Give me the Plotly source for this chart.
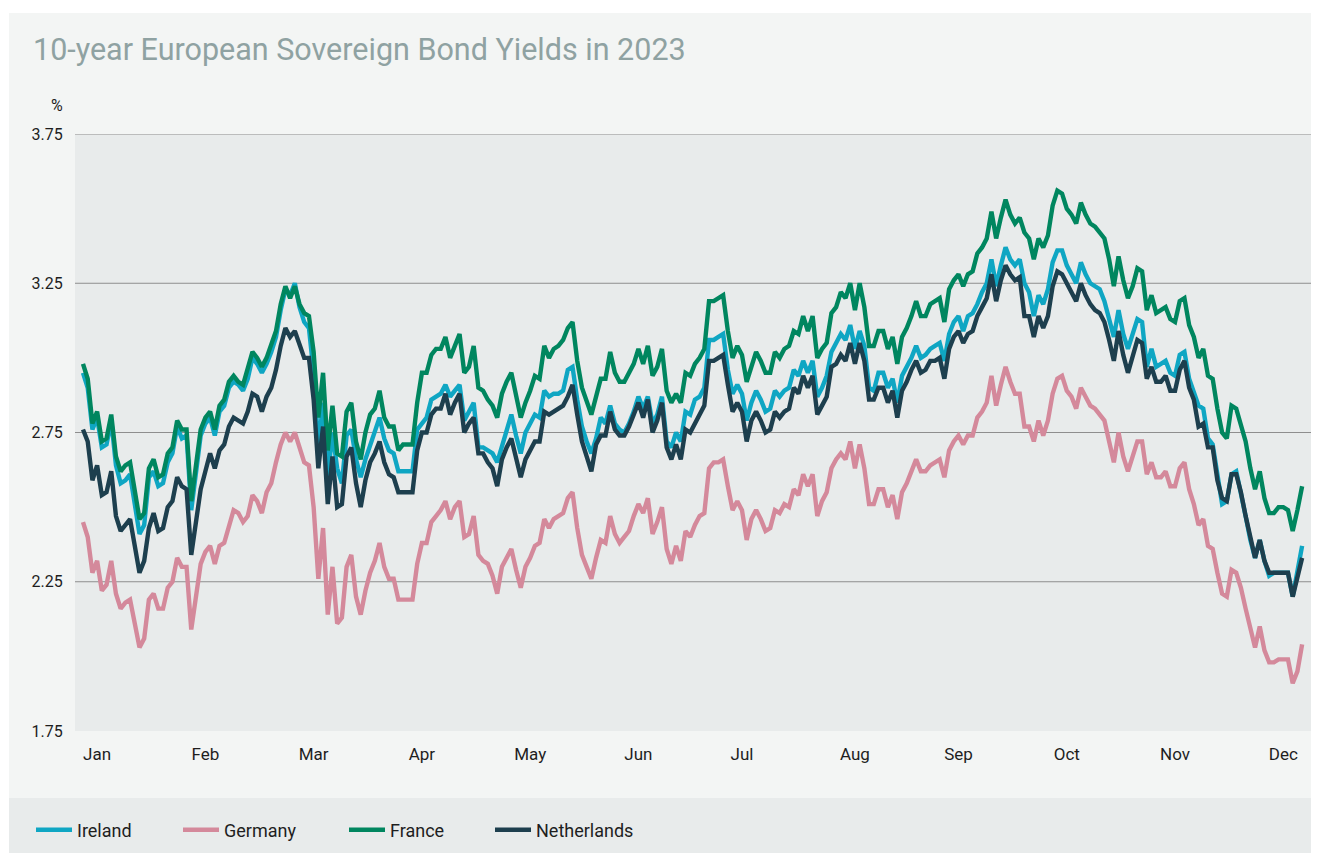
import pandas as pd
import plotly.graph_objects as go

# ---------------- data ----------------
dates = pd.bdate_range("2023-01-02", "2023-12-29")          # 260 business days
day_labels = [d.strftime("%Y-%m-%d") for d in dates]

month_names = ["Jan", "Feb", "Mar", "Apr", "May", "Jun",
               "Jul", "Aug", "Sep", "Oct", "Nov", "Dec"]
month_label_days = [3, 26, 49, 72, 95, 118, 140, 164, 186, 209, 232, 255]

y_ticks = [1.75, 2.25, 2.75, 3.25, 3.75]

ireland = [
    2.95, 2.90, 2.76, 2.80, 2.70, 2.71, 2.79, 2.64, 2.58, 2.59,
    2.61, 2.51, 2.41, 2.44, 2.60, 2.62, 2.57, 2.58, 2.65, 2.68,
    2.77, 2.73, 2.74, 2.49, 2.62, 2.74, 2.78, 2.80, 2.74, 2.82,
    2.84, 2.90, 2.92, 2.91, 2.89, 2.93, 3.00, 2.98, 2.95, 2.98,
    3.02, 3.07, 3.16, 3.23, 3.21, 3.25, 3.17, 3.12, 3.10, 2.95,
    2.70, 2.85, 2.60, 2.75, 2.63, 2.58, 2.74, 2.76, 2.66, 2.60,
    2.66, 2.71, 2.75, 2.80, 2.73, 2.69, 2.68, 2.62, 2.62, 2.62,
    2.62, 2.76, 2.78, 2.80, 2.86, 2.87, 2.88, 2.91, 2.87, 2.89,
    2.91, 2.79, 2.82, 2.85, 2.70, 2.70, 2.69, 2.68, 2.65, 2.70,
    2.76, 2.81, 2.74, 2.68, 2.75, 2.78, 2.81, 2.80, 2.89, 2.87,
    2.88, 2.88, 2.89, 2.96, 2.97, 2.86, 2.77, 2.72, 2.68, 2.73,
    2.80, 2.78, 2.84, 2.78, 2.76, 2.75, 2.78, 2.82, 2.87, 2.83,
    2.87, 2.78, 2.81, 2.87, 2.72, 2.70, 2.75, 2.72, 2.82, 2.81,
    2.86, 2.87, 2.90, 3.06, 3.06, 3.07, 3.08, 2.96, 2.88, 2.91,
    2.88, 2.79, 2.85, 2.89, 2.86, 2.82, 2.83, 2.89, 2.87, 2.89,
    2.90, 2.96, 2.94, 2.99, 2.95, 2.99, 2.87, 2.90, 2.94, 3.02,
    3.05, 3.08, 3.06, 3.11, 3.03, 3.09, 3.04, 2.90, 2.89, 2.95,
    2.95, 2.90, 2.93, 2.85, 2.94, 2.97, 3.00, 3.04, 3.00, 3.01,
    3.03, 3.04, 3.05, 2.99, 3.08, 3.12, 3.14, 3.09, 3.14, 3.15,
    3.18, 3.22, 3.25, 3.33, 3.24, 3.31, 3.37, 3.33, 3.31, 3.33,
    3.25, 3.22, 3.14, 3.21, 3.18, 3.23, 3.32, 3.36, 3.36, 3.31,
    3.28, 3.25, 3.32, 3.28, 3.25, 3.24, 3.23, 3.19, 3.13, 3.07,
    3.16, 3.08, 3.03, 3.08, 3.13, 3.12, 2.97, 3.03, 2.97, 2.98,
    2.99, 2.95, 2.94, 3.01, 3.02, 2.93, 2.88, 2.84, 2.83, 2.73,
    2.71, 2.61, 2.51, 2.52, 2.61, 2.62, 2.55, 2.47, 2.39, 2.33,
    2.39, 2.32, 2.27, 2.28, 2.28, 2.28, 2.28, 2.20, 2.28, 2.37,
]

germany = [
    2.45, 2.40, 2.28, 2.32, 2.22, 2.24, 2.32, 2.21, 2.16, 2.18,
    2.19, 2.10, 2.03, 2.06, 2.19, 2.21, 2.16, 2.16, 2.23, 2.25,
    2.33, 2.30, 2.30, 2.09, 2.21, 2.31, 2.35, 2.37, 2.31, 2.37,
    2.38, 2.44, 2.49, 2.48, 2.45, 2.47, 2.54, 2.52, 2.48, 2.55,
    2.58, 2.65, 2.71, 2.75, 2.72, 2.75, 2.70, 2.65, 2.64, 2.50,
    2.26, 2.43, 2.14, 2.30, 2.11, 2.13, 2.30, 2.34, 2.20, 2.14,
    2.22, 2.28, 2.32, 2.38, 2.30, 2.26, 2.26, 2.19, 2.19, 2.19,
    2.19, 2.31, 2.38, 2.38, 2.45, 2.47, 2.49, 2.52, 2.46, 2.50,
    2.52, 2.40, 2.41, 2.47, 2.34, 2.32, 2.31, 2.27, 2.21, 2.30,
    2.33, 2.36, 2.29, 2.23, 2.30, 2.33, 2.37, 2.38, 2.46, 2.43,
    2.46, 2.47, 2.48, 2.53, 2.55, 2.43, 2.34, 2.30, 2.26, 2.33,
    2.39, 2.38, 2.47, 2.41, 2.38, 2.40, 2.42, 2.47, 2.51, 2.48,
    2.53, 2.41, 2.45, 2.50, 2.36, 2.31, 2.37, 2.32, 2.42, 2.40,
    2.44, 2.47, 2.48, 2.63, 2.65, 2.65, 2.66, 2.57, 2.49, 2.52,
    2.49, 2.39, 2.46, 2.49, 2.46, 2.42, 2.43, 2.49, 2.48, 2.51,
    2.50, 2.56, 2.54, 2.61, 2.57, 2.61, 2.47, 2.52, 2.55, 2.63,
    2.66, 2.68, 2.66, 2.72, 2.63, 2.71, 2.63, 2.51, 2.51, 2.56,
    2.56, 2.50, 2.54, 2.46, 2.55, 2.58, 2.62, 2.66, 2.62, 2.62,
    2.64, 2.65, 2.66, 2.60, 2.69, 2.72, 2.74, 2.71, 2.74, 2.74,
    2.80, 2.82, 2.85, 2.94, 2.84, 2.91, 2.97, 2.92, 2.88, 2.88,
    2.77, 2.77, 2.72, 2.79, 2.74, 2.79, 2.88, 2.93, 2.94, 2.89,
    2.87, 2.83, 2.90, 2.87, 2.84, 2.83, 2.81, 2.79, 2.72, 2.65,
    2.75, 2.67, 2.62, 2.67, 2.72, 2.72, 2.61, 2.65, 2.60, 2.60,
    2.62, 2.57, 2.57, 2.63, 2.65, 2.56, 2.51, 2.44, 2.46, 2.37,
    2.36, 2.28, 2.21, 2.20, 2.29, 2.28, 2.23, 2.16, 2.10, 2.03,
    2.10, 2.02, 1.98, 1.98, 1.99, 1.99, 1.99, 1.91, 1.95, 2.04,
]

france = [
    2.98, 2.93, 2.78, 2.82, 2.72, 2.73, 2.81, 2.67, 2.62, 2.64,
    2.65, 2.55, 2.46, 2.48, 2.63, 2.66, 2.60, 2.61, 2.68, 2.70,
    2.79, 2.76, 2.76, 2.52, 2.65, 2.76, 2.80, 2.82, 2.76, 2.84,
    2.86, 2.92, 2.94, 2.92, 2.91, 2.97, 3.02, 3.00, 2.97, 3.00,
    3.04, 3.09, 3.18, 3.24, 3.20, 3.24, 3.18, 3.15, 3.14, 3.02,
    2.80, 2.95, 2.69, 2.84, 2.68, 2.67, 2.82, 2.85, 2.72, 2.66,
    2.75, 2.81, 2.83, 2.89, 2.80, 2.77, 2.77, 2.69, 2.71, 2.71,
    2.71, 2.85, 2.95, 2.95, 3.01, 3.03, 3.03, 3.07, 3.00, 3.04,
    3.08, 2.95, 2.97, 3.04, 2.90, 2.89, 2.86, 2.84, 2.80, 2.88,
    2.92, 2.95, 2.87, 2.80, 2.85, 2.89, 2.94, 2.93, 3.04, 3.00,
    3.03, 3.04, 3.06, 3.10, 3.12, 2.99, 2.90, 2.85, 2.81, 2.87,
    2.93, 2.93, 3.02, 2.95, 2.92, 2.92, 2.95, 2.98, 3.03, 2.98,
    3.04, 2.94, 2.97, 3.03, 2.89, 2.85, 2.88, 2.85, 2.95, 2.94,
    2.98, 3.00, 3.03, 3.19, 3.19, 3.20, 3.21, 3.09, 3.00, 3.04,
    3.01, 2.92, 2.97, 3.02, 2.99, 2.95, 2.95, 3.02, 3.00, 3.03,
    3.04, 3.09, 3.08, 3.14, 3.09, 3.14, 3.00, 3.03, 3.05, 3.15,
    3.17, 3.22, 3.20, 3.25, 3.16, 3.25, 3.17, 3.04, 3.04, 3.09,
    3.09, 3.03, 3.07, 2.98, 3.07, 3.10, 3.14, 3.19, 3.14, 3.14,
    3.18, 3.19, 3.20, 3.12, 3.23, 3.26, 3.28, 3.24, 3.28, 3.29,
    3.35, 3.37, 3.40, 3.49, 3.40, 3.47, 3.53, 3.48, 3.45, 3.47,
    3.42, 3.40, 3.33, 3.40, 3.37, 3.41, 3.51, 3.56, 3.55, 3.50,
    3.48, 3.45, 3.52, 3.48, 3.45, 3.44, 3.42, 3.40, 3.33, 3.24,
    3.34, 3.26, 3.20, 3.24, 3.30, 3.29, 3.16, 3.21, 3.15, 3.16,
    3.17, 3.13, 3.12, 3.19, 3.20, 3.11, 3.07, 3.00, 3.03, 2.94,
    2.93, 2.83, 2.75, 2.73, 2.84, 2.83, 2.78, 2.72, 2.63, 2.56,
    2.62, 2.53, 2.48, 2.48, 2.50, 2.50, 2.49, 2.42, 2.49, 2.57,
]

netherlands = [
    2.76, 2.72, 2.59, 2.64, 2.54, 2.55, 2.62, 2.47, 2.42, 2.44,
    2.46, 2.37, 2.28, 2.32, 2.43, 2.48, 2.42, 2.43, 2.50, 2.52,
    2.60, 2.57, 2.56, 2.34, 2.46, 2.56, 2.62, 2.68, 2.63, 2.69,
    2.71, 2.77, 2.80, 2.79, 2.78, 2.82, 2.88, 2.87, 2.82, 2.87,
    2.90, 2.96, 3.04, 3.10, 3.07, 3.09, 3.05, 3.00, 3.00, 2.86,
    2.63, 2.77, 2.51, 2.67, 2.50, 2.51, 2.67, 2.70, 2.58, 2.50,
    2.59, 2.65, 2.68, 2.72, 2.65, 2.61, 2.60, 2.55, 2.55, 2.55,
    2.55, 2.69, 2.75, 2.75, 2.81, 2.83, 2.83, 2.88, 2.81, 2.85,
    2.88, 2.75, 2.78, 2.80, 2.68, 2.68, 2.65, 2.63, 2.57, 2.66,
    2.70, 2.73, 2.66, 2.60, 2.66, 2.69, 2.72, 2.72, 2.82, 2.81,
    2.82, 2.83, 2.84, 2.87, 2.91, 2.81, 2.72, 2.67, 2.62, 2.71,
    2.74, 2.74, 2.82, 2.76, 2.74, 2.74, 2.77, 2.81, 2.85, 2.80,
    2.86, 2.75, 2.79, 2.85, 2.70, 2.66, 2.71, 2.66, 2.76, 2.75,
    2.78, 2.81, 2.84, 2.99, 2.99, 3.00, 3.01, 2.91, 2.82, 2.85,
    2.82, 2.72, 2.79, 2.82, 2.79, 2.75, 2.76, 2.82, 2.80, 2.82,
    2.83, 2.90, 2.88, 2.94, 2.90, 2.94, 2.81, 2.84, 2.87, 2.97,
    2.98, 3.01, 2.99, 3.05, 2.98, 3.05, 2.99, 2.86, 2.86, 2.90,
    2.90, 2.85, 2.89, 2.80, 2.89, 2.92, 2.96, 2.99, 2.95, 2.96,
    2.99, 2.99, 3.00, 2.93, 3.03, 3.07, 3.09, 3.05, 3.08, 3.09,
    3.14, 3.17, 3.20, 3.28, 3.19, 3.26, 3.31, 3.28, 3.26, 3.27,
    3.14, 3.14, 3.07, 3.14, 3.10, 3.14, 3.24, 3.29, 3.28, 3.25,
    3.22, 3.19, 3.25, 3.21, 3.18, 3.16, 3.15, 3.12, 3.06, 2.99,
    3.09, 3.01, 2.95, 3.00, 3.06, 3.05, 2.93, 2.97, 2.92, 2.92,
    2.94, 2.89, 2.89, 2.96, 2.99, 2.90, 2.86, 2.77, 2.78, 2.70,
    2.70, 2.59, 2.53, 2.52, 2.61, 2.61, 2.55, 2.47, 2.40, 2.33,
    2.39, 2.32, 2.28, 2.28, 2.28, 2.28, 2.28, 2.20, 2.27, 2.33,
]

series = [
    ("Ireland", ireland, "#0fa6c3", 96),
    ("Germany", germany, "#d4899b", 115),
    ("France", france, "#00865f", 95),
    ("Netherlands", netherlands, "#1d3f4e", 110),
]

# ---------------- style ----------------
CARD = "#f3f5f4"
PANEL = "#e8ebeb"
GRID = "#8e8e8e"
FONT = "Roboto"
TXT = "#1e1e1e"

W, H = 1319, 853
OFF = 8                      # page body margin of the browser
L, T = 75 - OFF, 134 - OFF   # plot-area left / top (figure px)
RIGHT, BOTTOM = 1312 - OFF, 731 - OFF
pw, ph = RIGHT - L, BOTTOM - T


def px_x(px):
    """screen x (reference) -> paper coordinate"""
    return (px - OFF - L) / pw


def px_y(py):
    """screen y (reference) -> paper coordinate"""
    return (BOTTOM - (py - OFF)) / ph


fig = go.Figure()
for name, vals, color, lw in series:
    fig.add_trace(go.Scatter(
        x=day_labels, y=vals, name=name, mode="lines",
        line=dict(color=color, width=4.4),
        legendwidth=lw,
        hoverinfo="skip",
    ))

shapes = []
for v in y_ticks[1:]:
    shapes.append(dict(type="line", xref="paper", yref="y", x0=0, x1=1, y0=v, y1=v,
                       line=dict(color=GRID, width=1.2), layer="below"))
# white strip above the card, and the legend band at the bottom
shapes.append(dict(type="rect", xref="paper", yref="paper",
                   x0=px_x(0), x1=px_x(W + OFF), y0=px_y(13), y1=px_y(OFF),
                   fillcolor="white", line=dict(width=0), layer="below"))
shapes.append(dict(type="rect", xref="paper", yref="paper",
                   x0=px_x(OFF), x1=px_x(9), y0=px_y(H + OFF), y1=px_y(OFF),
                   fillcolor="white", line=dict(width=0), layer="below"))
shapes.append(dict(type="rect", xref="paper", yref="paper",
                   x0=px_x(9), x1=px_x(W + OFF), y0=px_y(H + OFF), y1=px_y(798),
                   fillcolor=PANEL, line=dict(width=0), layer="below"))

fig.update_layout(
    width=W, height=H,
    margin=dict(l=L, r=W - RIGHT, t=T, b=H - BOTTOM, pad=0),
    paper_bgcolor=CARD,
    plot_bgcolor=PANEL,
    font=dict(family=FONT, color=TXT, size=16),
    title=dict(
        text="10-year European Sovereign Bond Yields in 2023",
        x=(33 - OFF) / W, xanchor="left", xref="container",
        y=1 - (49 - OFF) / H, yanchor="middle", yref="container",
        font=dict(family=FONT, size=30.5, color="#8fa2a2"),
    ),
    showlegend=True,
    legend=dict(
        orientation="h",
        x=px_x(31), xanchor="left",
        y=px_y(830), yanchor="middle",
        bgcolor="rgba(0,0,0,0)",
        font=dict(family=FONT, size=18, color=TXT),
        itemwidth=36,
        traceorder="normal",
    ),
    shapes=shapes,
    annotations=[dict(
        text="%", xref="paper", yref="paper",
        x=px_x(65), xanchor="right", y=px_y(105), yanchor="middle",
        showarrow=False, font=dict(family=FONT, size=16, color=TXT),
    )],
)

fig.update_xaxes(
    type="category",
    range=[-1.7, 261.1],
    tickmode="array",
    tickvals=[day_labels[k] for k in month_label_days],
    ticktext=month_names,
    showgrid=False, zeroline=False, showline=False,
    ticks="outside", ticklen=8, tickcolor="rgba(0,0,0,0)",
    tickfont=dict(family=FONT, size=17, color=TXT),
    fixedrange=True,
)
fig.update_yaxes(
    range=[1.75, 3.75],
    tickmode="array",
    tickvals=y_ticks,
    ticktext=[f"{v:.2f}" for v in y_ticks],
    showgrid=False, zeroline=False, showline=False,
    ticks="outside", ticklen=8, tickcolor="rgba(0,0,0,0)",
    tickfont=dict(family=FONT, size=16, color=TXT),
    fixedrange=True,
)

fig.write_html("out.html")
